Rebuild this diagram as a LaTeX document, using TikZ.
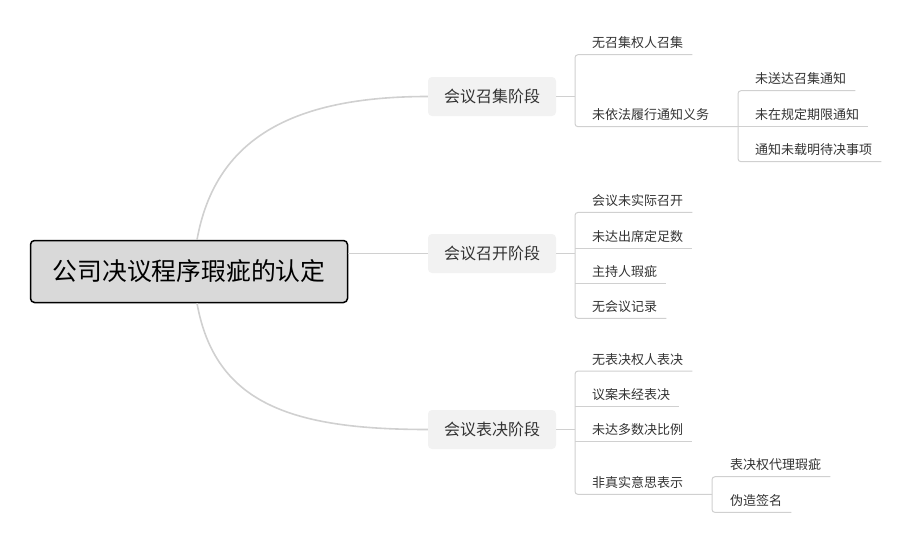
\documentclass[tikz,border=0pt]{standalone}
\usepackage{fontspec}
\setmainfont{Noto Sans CJK SC}
\definecolor{linegray}{HTML}{D0D0D0}
\definecolor{boxgray}{HTML}{F2F2F2}
\definecolor{rootgray}{HTML}{D9D9D9}
\definecolor{textgray}{HTML}{333333}

\begin{document}
\begin{tikzpicture}[x=1pt, y=-1pt,
    every node/.style={font=\fontsize{13}{15}\selectfont, text=textgray},
    root/.style={draw=black, line width=1.5pt, fill=rootgray, rounded corners=4pt,
      minimum width=317pt, minimum height=62pt, font=\fontsize{24.8}{29}\selectfont, text=black},
    stage/.style={fill=boxgray, rounded corners=4pt, minimum width=128pt,
      minimum height=39pt, font=\fontsize{16}{19}\selectfont},
    leaf/.style={anchor=west, inner xsep=9pt, inner ysep=0pt, minimum height=23pt},
    trunk/.style={draw=linegray, line width=1.6pt},
    twig/.style={draw=linegray, line width=1pt, rounded corners=3pt}]
    \useasboundingbox (0,0) rectangle (912,543);

    \node[root]  (root) at (189,271.5) {公司决议程序瑕疵的认定};
    \node[stage] (call) at (492,96.5)  {会议召集阶段};
    \node[stage] (hold) at (492,253.5) {会议召开阶段};
    \node[stage] (vote) at (492,429.5) {会议表决阶段};

    % bracket positions
    \coordinate (callx)   at (575,96.5);
    \coordinate (callsub) at (738,126);
    \coordinate (holdx)   at (575,253.5);
    \coordinate (votex)   at (575,429.5);
    \coordinate (votesub) at (712,494);

    \node[leaf] (call1)  at (583,43)    {无召集权人召集};
    \node[leaf] (call2)  at (583,115)   {未依法履行通知义务};
    \node[leaf] (call21) at (746,79)    {未送达召集通知};
    \node[leaf] (call22) at (746,115)   {未在规定期限通知};
    \node[leaf] (call23) at (746,150)   {通知未载明待决事项};

    \node[leaf] (hold1)  at (583,200.7) {会议未实际召开};
    \node[leaf] (hold2)  at (583,236.7) {未达出席定足数};
    \node[leaf] (hold3)  at (583,271.7) {主持人瑕疵};
    \node[leaf] (hold4)  at (583,306.7) {无会议记录};

    \node[leaf] (vote1)  at (583,359.3) {无表决权人表决};
    \node[leaf] (vote2)  at (583,395)   {议案未经表决};
    \node[leaf] (vote3)  at (583,430)   {未达多数决比例};
    \node[leaf] (vote4)  at (583,482.7) {非真实意思表示};
    \node[leaf] (vote41) at (721,465)   {表决权代理瑕疵};
    \node[leaf] (vote42) at (721,500.7) {伪造签名};

    % main branches
    \draw[trunk] ([xshift=8pt]root.north) .. controls (215,140) and (290,96.5) .. (call.west);
    \draw[trunk] (root.east |- hold.west) -- (hold.west);
    \draw[trunk] ([xshift=8pt]root.south) .. controls (215,403) and (290,429.5) .. (vote.west);

    % stage 1
    \draw[twig] (call.east) -- (callx);
    \draw[twig] (call1.south east) -- (call1.south -| callx) -- (call2.south -| callx) -- (call2.south -| callsub);
    \draw[twig] (call21.south east) -- (call21.south -| callsub) -- (call23.south -| callsub) -- (call23.south east);
    \draw[twig] (call22.south -| callsub) -- (call22.south east);

    % stage 2
    \draw[twig] (hold.east) -- (holdx);
    \draw[twig] (hold1.south east) -- (hold1.south -| holdx) -- (hold4.south -| holdx) -- (hold4.south east);
    \foreach \n in {2,3}
      \draw[twig] (hold\n.south -| holdx) -- (hold\n.south east);

    % stage 3
    \draw[twig] (vote.east) -- (votex);
    \draw[twig] (vote1.south east) -- (vote1.south -| votex) -- (vote4.south -| votex) -- (vote4.south -| votesub);
    \foreach \n in {2,3}
      \draw[twig] (vote\n.south -| votex) -- (vote\n.south east);
    \draw[twig] (vote41.south east) -- (vote41.south -| votesub) -- (vote42.south -| votesub) -- (vote42.south east);
\end{tikzpicture}
\end{document}
